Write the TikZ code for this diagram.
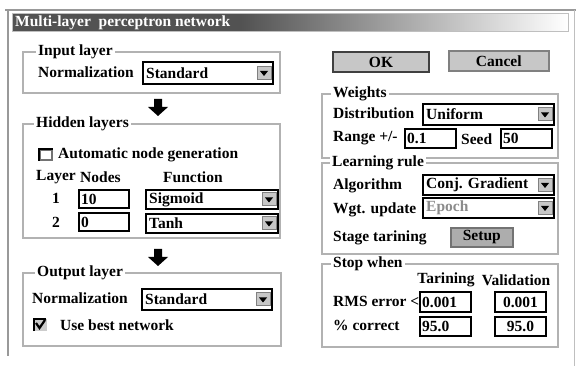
\documentclass[tikz,border=0pt]{standalone}
\usepackage{fontspec}
\setmainfont{Liberation Serif}
\tikzset{
  frame/.style={draw=black!30, line width=1.8pt},
  ftitle/.style={anchor=west, fill=white, inner xsep=2pt, inner ysep=0pt},
  lbl/.style={anchor=west, inner sep=0pt},
  field/.style={draw=black, line width=2pt, fill=white, inner sep=0pt, anchor=north west},
  ddbtn/.style={draw=black!50, line width=1pt, fill=black!22, minimum width=14pt, minimum height=13pt, inner sep=0pt},
  pbtn/.style={draw=black!50, line width=1.6pt, fill=black!22, inner sep=0pt, anchor=north west},
  okbtn/.style={pbtn, draw=black!75, line width=2pt},
  bigarrow/.style={fill=black},
}
\newcommand\combobox[6]{%
  \node[field, minimum width=#4pt, minimum height=#5pt] (#1) at (#2,#3) {};
  \node[lbl] (#1t) at ([xshift=4pt]#1.west) {#6};
  \node[ddbtn] (#1b) at ([xshift=-10pt]#1.east) {};
  \fill ([xshift=-4pt,yshift=2pt]#1b.center) -- ([xshift=4pt,yshift=2pt]#1b.center) -- ([yshift=-3pt]#1b.center) -- cycle;
}
\newcommand\entrybox[6]{%
  \node[field, minimum width=#4pt, minimum height=#5pt] (#1) at (#2,#3) {};
  \node[lbl] (#1t) at ([xshift=3pt]#1.west) {#6};
}
\newcommand\blockarrow[2]{%
  \fill[bigarrow] (#1-4,#2) -- (#1+4,#2) -- (#1+4,#2+8) -- (#1+10,#2+8) -- (#1,#2+17) -- (#1-10,#2+8) -- (#1-4,#2+8) -- cycle;
}
\begin{document}
\begin{tikzpicture}[x=1pt,y=-1pt, font=\fontsize{15.5}{17}\selectfont\bfseries]
\useasboundingbox[fill=white] (0,0) rectangle (576,366);
% window borders
\draw[black!40, line width=2pt] (5,10) -- (576,10);
\draw[black!40, line width=2.5pt] (8,10) -- (8,356);
\draw[black!25, line width=1pt] (574.5,10) -- (574.5,366);
% title bar
\fill[black!68] (12,14) rectangle (240,32);
\shade[left color=black!68, right color=white] (240,14) rectangle (568,32);
\draw[black!25, line width=1pt] (12,14) rectangle (568,32);
\node[lbl, text=white] (title) at (15,23) {Multi-layer\ \ perceptron network};

% ---------- Input layer
\draw[frame] (23,52) rectangle (280,93);
\node[ftitle] (inT) at (36,52) {Input layer};
\node[lbl] (inNorm) at (38,72) {Normalization};
\combobox{inCombo}{142}{61}{130}{22}{Standard}
\blockarrow{158}{99}

% ---------- Hidden layers
\draw[frame] (23,124) rectangle (280,238);
\node[ftitle] (hidT) at (34,124) {Hidden layers};
\draw[black!55, line width=1.5pt] (40,150) rectangle (52,160);
\draw[black, line width=2pt] (39,161) -- (39,149) -- (53,149);
\node[lbl] (autoL) at (58,155) {Automatic node generation};
\node[lbl] (layerH) at (36,177) {Layer};
\node[lbl] (nodesH) at (80,177) {Nodes};
\node[lbl] (funcH) at (163,177) {Function};
\node[inner sep=0pt] (r1) at (56,198) {1};
\entrybox{n1}{78}{189}{50}{18}{10}
\combobox{f1}{145}{189}{132}{19}{Sigmoid}
\node[inner sep=0pt] (r2) at (56,222) {2};
\entrybox{n2}{78}{212}{50}{18}{0}
\combobox{f2}{145}{213}{132}{19}{Tanh}
\blockarrow{158}{249}

% ---------- Output layer
\draw[frame] (23,273) rectangle (281,346);
\node[ftitle] (outT) at (35,273) {Output layer};
\node[lbl] (outNorm) at (32,298) {Normalization};
\combobox{outCombo}{141}{288}{130}{21}{Standard}
\draw[black!20, fill=black!20] (34,319) rectangle (46,330);
\draw[black, line width=2pt] (34,331) -- (34,319) -- (46,319);
\draw[black, line width=2.2pt] (36,323) -- (39.5,328) -- (45,320);
\node[lbl] (bestL) at (60,325) {Use best network};

% ---------- Buttons
\node[okbtn, minimum width=96pt, minimum height=20pt] (ok) at (332,51) {};
\node (okT) at (ok.center) {OK};
\node[pbtn, minimum width=100pt, minimum height=20pt] (cancel) at (448,50) {};
\node (cancelT) at (cancel.center) {Cancel};

% ---------- Weights
\draw[frame] (322,94) rectangle (558,158);
\node[ftitle] (wT) at (331,94) {Weights};
\node[lbl] (distL) at (333,113) {Distribution};
\combobox{dist}{422}{103}{131}{21}{Uniform}
\node[lbl] (rangeL) at (333,138) {Range +/-};
\entrybox{range}{404}{128}{51}{19}{0.1}
\node[lbl] (seedL) at (461,139) {Seed};
\entrybox{seed}{500}{128}{51}{19}{50}

% ---------- Learning rule
\draw[frame] (322,163) rectangle (558,254);
\node[ftitle] (lT) at (330,163) {Learning rule};
\node[lbl] (algL) at (333,186) {Algorithm};
\combobox{alg}{422}{174}{131}{20}{Conj. Gradient}
\node[lbl] (wgtL) at (333,210) {Wgt. update};
\combobox{wgt}{422}{197}{131}{20}{\textcolor{black!45}{Epoch}}
\node[lbl] (stageL) at (333,238) {Stage tarining};
\node[pbtn, draw=black!55, fill=black!32, minimum width=62pt, minimum height=19pt] (setup) at (450,227) {};
\node (setupT) at (setup.center) {Setup};

% ---------- Stop when
\draw[frame] (322,264) rectangle (558,347);
\node[ftitle] (sT) at (331,264) {Stop when};
\node (trainH) at (446,280) {Tarining};
\node (validH) at (516,280) {Validation};
\node[lbl] (rmsL) at (333,301) {RMS error <};
\entrybox{rmsT}{419}{291}{51}{20}{0.001}
\node[field, minimum width=51pt, minimum height=20pt] (rmsV) at (494,291) {};
\node (rmsVt) at (rmsV.center) {0.001};
\node[lbl] (pctL) at (333,325) {\% correct};
\entrybox{pctT}{419}{316}{51}{19}{95.0}
\node[field, minimum width=51pt, minimum height=19pt] (pctV) at (494,316) {};
\node (pctVt) at (pctV.center) {95.0};
\end{tikzpicture}
\end{document}
